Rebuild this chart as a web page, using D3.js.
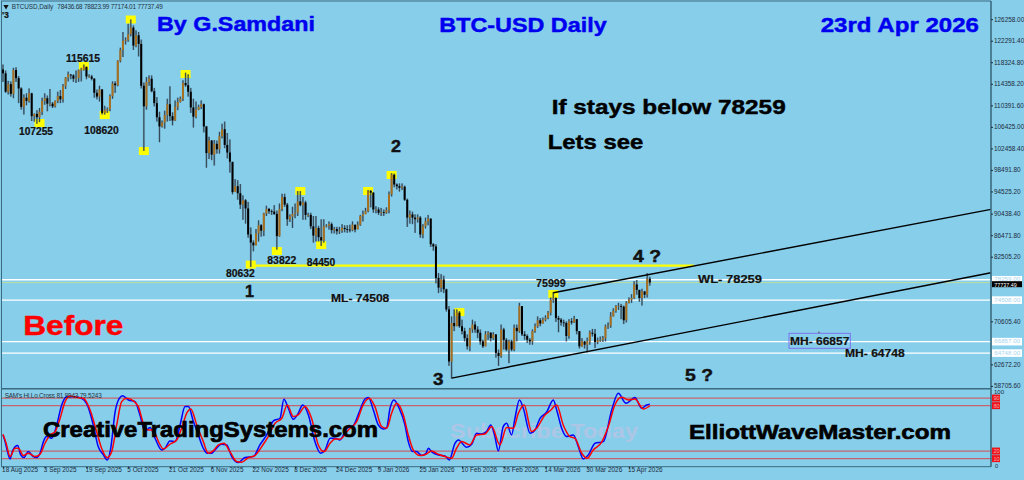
<!DOCTYPE html>
<html>
<head>
<meta charset="utf-8">
<title>BTC-USD Daily</title>
<script src="https://cdn.jsdelivr.net/npm/d3@7"></script>
<style>
html,body{margin:0;padding:0;background:#87ceeb;overflow:hidden}
svg{display:block}
text{font-family:"Liberation Sans",Arial,sans-serif}
.axis text{font-size:6.4px;fill:#1c2b3a}
.axis line{stroke:#1c2b3a}
.axis path{display:none}
</style>
</head>
<body>
<svg id="chart" width="1024" height="480"></svg>
<script>
'use strict';

// daily closes, highs, lows in thousands of USD
var closes = [
116.3,112.9,114.3,112.5,116.9,115.4,113.5,110.1,111.8,111.2,
112.6,108.4,108.8,108.2,109.2,111.2,111.7,110.7,110.7,110.2,
111.2,112.1,111.5,113.9,115.5,116.1,115.9,115.3,115.4,116.8,
117.0,117.5,115.7,115.7,115.3,112.7,112.0,113.3,109.0,109.6,
109.7,112.1,114.4,114.1,118.6,120.6,122.3,122.4,123.5,124.7,
121.4,123.3,121.7,114.0,110.2,114.7,115.3,113.0,110.8,108.2,
106.5,107.2,108.6,110.6,108.4,107.6,110.1,111.0,111.6,114.5,
114.1,112.9,110.0,108.3,109.6,110.1,110.6,106.5,101.6,103.9,
101.3,103.3,102.3,104.7,106.0,103.1,101.7,100.0,94.4,95.5,
94.2,92.1,92.9,91.4,86.6,85.1,84.6,86.8,88.3,87.3,
90.5,91.3,90.9,90.8,90.4,86.3,91.3,93.5,92.1,89.4,
89.9,90.4,90.6,92.7,92.0,92.5,90.2,90.2,88.1,86.4,
87.8,86.1,85.5,88.1,88.2,88.5,87.4,87.6,87.2,87.3,
87.8,87.6,87.5,87.4,88.4,87.5,88.4,90.0,90.3,90.9,
94.6,94.3,91.2,91.2,90.6,90.7,90.6,91.1,94.0,97.6,
95.8,95.5,95.2,95.4,93.0,89.7,90.3,89.7,89.4,89.7,
86.6,88.1,89.0,89.5,84.8,84.4,78.6,76.8,78.3,76.5,
72.8,63.2,70.3,69.7,72.2,69.7,68.8,67.5,66.0,69.1,
70.0,69.1,68.5,66.9,66.0,68.2,68.5,67.5,68.2,64.8,
64.2,69.1,67.2,65.4,66.9,65.4,69.4,68.8,73.4,68.2,
67.9,67.2,66.9,68.8,69.7,70.8,70.2,70.9,71.2,72.2,
74.6,74.9,71.2,70.9,70.4,70.3,67.9,70.6,70.4,71.0,
68.8,66.0,66.9,66.3,66.9,68.5,68.3,66.8,67.1,67.2,
67.5,69.7,69.8,71.5,72.5,73.4,73.4,73.3,70.8,74.0,
74.6,74.9,77.4,76.4,74.9,76.1,75.5,78.44,77.74
];
var highs = [
117.9,116.8,114.9,114.8,117.3,117.4,115.8,113.7,112.4,112.6,
113.5,112.7,108.9,109.5,109.9,111.8,112.6,112.2,113.4,111.0,
111.3,112.9,113.2,114.3,115.6,116.6,116.0,116.1,116.8,117.0,
117.3,117.9,117.5,116.1,116.0,115.4,113.3,114.0,113.4,110.3,
110.0,112.4,114.8,114.8,118.7,121.0,123.9,122.9,125.4,126.2,
125.1,124.2,123.9,122.5,114.6,115.6,115.9,115.9,113.6,111.9,
109.2,107.6,109.4,111.6,113.9,109.1,111.3,111.8,112.0,115.0,
116.4,116.1,113.6,111.6,111.1,110.5,111.3,110.7,106.6,104.6,
104.0,104.0,103.9,105.5,107.0,107.4,105.3,104.1,99.8,96.8,
96.6,95.9,93.8,93.1,92.6,87.9,85.5,87.6,89.2,88.5,
90.6,91.9,91.5,91.2,92.0,91.0,92.3,94.1,94.1,92.4,
90.3,91.7,92.3,94.6,94.6,93.5,92.8,90.6,90.6,90.0,
90.0,88.2,89.4,89.4,88.5,89.0,88.8,88.0,88.0,88.0,
88.5,88.3,88.3,88.4,89.0,88.4,89.0,90.2,91.0,91.5,
94.8,94.8,94.4,91.8,91.6,91.5,91.2,91.6,94.5,97.9,
97.8,96.0,96.0,96.0,95.6,93.2,91.0,90.8,90.3,90.3,
90.0,88.5,89.7,90.2,89.6,85.0,84.8,79.5,79.3,79.0,
76.6,73.4,71.5,72.8,72.8,72.5,70.9,69.4,68.2,69.4,
70.9,70.6,69.7,69.1,67.2,68.8,68.8,68.6,68.6,68.2,
65.4,70.0,69.4,67.5,67.2,67.2,70.0,70.0,74.0,73.4,
68.8,68.2,67.5,69.1,70.2,71.5,71.2,71.3,71.7,72.5,
75.0,76.0,75.0,71.6,71.2,70.9,70.6,71.0,71.2,71.6,
71.0,68.8,67.5,67.0,67.6,68.9,69.2,69.2,67.6,67.8,
67.9,70.0,70.4,72.3,73.0,73.6,74.0,73.8,73.5,74.3,
75.0,75.6,78.0,78.2,76.4,76.6,76.2,79.5,78.82
];
var lows = [
114.7,112.7,112.4,112.0,111.7,114.7,110.8,109.6,108.7,110.4,
110.9,107.5,107.4,107.0,107.3,108.6,110.5,109.3,110.2,109.9,
110.0,110.8,110.8,110.9,113.4,114.8,115.2,114.7,114.5,114.7,
114.8,116.8,115.2,115.5,115.0,111.8,111.5,111.1,108.7,108.7,
109.0,109.3,111.6,112.7,113.9,118.3,119.3,121.6,122.1,123.1,
120.6,121.1,119.4,113.5,102.0,109.6,114.0,112.8,110.2,107.4,
103.6,106.3,106.1,107.4,107.5,106.7,107.5,109.5,110.9,111.2,
113.8,112.0,109.0,106.3,108.0,109.5,109.7,105.4,98.9,100.5,
100.3,99.3,101.5,101.5,104.3,102.5,100.6,98.0,94.0,94.8,
93.0,91.3,89.3,88.6,86.0,80.6,83.5,84.6,85.3,86.2,
86.3,90.0,90.4,90.2,90.2,83.8,86.2,90.9,91.7,88.2,
88.9,87.8,89.6,90.0,91.8,89.3,89.3,89.8,87.6,85.1,
85.3,85.3,84.5,85.1,87.9,87.5,86.8,86.8,86.6,86.7,
86.9,87.0,86.9,87.0,87.2,87.0,87.6,88.2,89.0,90.5,
90.7,91.6,90.6,90.5,90.2,90.0,90.0,90.4,90.5,93.6,
95.3,94.9,94.5,94.8,92.8,88.0,88.6,88.5,86.9,88.8,
86.0,85.9,87.7,88.3,84.3,83.6,77.6,75.8,76.0,75.8,
72.4,62.4,60.1,68.8,69.7,69.4,68.2,66.9,65.4,65.1,
68.5,68.5,67.5,66.3,65.7,66.0,67.2,66.9,67.2,63.9,
62.4,63.9,65.4,65.1,62.9,65.1,65.1,66.9,68.5,67.9,
67.2,66.6,66.3,66.3,68.5,69.4,69.7,70.2,70.6,71.0,
71.7,74.0,70.5,68.6,69.8,69.6,66.9,67.4,70.0,70.3,
68.2,65.6,65.9,65.6,64.9,66.3,67.8,65.7,66.4,66.8,
66.8,66.9,69.2,69.4,71.5,72.2,72.7,71.0,70.1,70.4,
73.9,74.0,74.7,75.5,74.2,73.5,74.9,75.0,77.17
];
var firstOpen = 117.0;

var priceTicks = [126258,122291.4,118324.8,114358.2,110391.6,106425,102458.4,98491.8,94525.2,90438.4,86471.8,82505.2,70605.4,62672.2,58705.6];
var levels = [78259,74508,66857,64748];
var bidPrice = 77737.49;
var supportPrice = 80850;

var dateTickBars = [0,16,32,48,64,80,96,112,128,144,160,176,192,208,224,240];
var dateTickLabels = ['18 Aug 2025','3 Sep 2025','19 Sep 2025','5 Oct 2025','21 Oct 2025','6 Nov 2025','22 Nov 2025','8 Dec 2025','24 Dec 2025','9 Jan 2026','25 Jan 2026','10 Feb 2026','26 Feb 2026','14 Mar 2026','30 Mar 2026','15 Apr 2026'];

// yellow swing markers: bar, price
var swingBars = [49,31,14,39,54,70,95,105,114,122,140,149,175,211];
var swingPrices = [126200,117630,107130,108600,101970,116160,81050,83550,94600,84650,94600,97550,72300,75620];

// trend lines: bar, price at both ends
var lowerTrendBars = [172,378.8];
var lowerTrendPrices = [60142,79546];
var upperTrendBars = [211,378.8];
var upperTrendPrices = [75860,91228];
var supportBars = [96,265];

// indicator sample points: bar and value
var blueBars = [0,0.8,1.7,2.7,3.7,5.6,6.8,8,9.7,11.6,12.9,14.2,15.5,16.7,18.7,20.6,22.5,24.4,27,29.5,32.3,34.6,36.5,38.5,40,41.3,43,44.6,45.9,48.1,50.6,52.5,54.4,56.4,58.3,60.8,62.1,64,66,67.9,69.8,71.1,73,74.9,76.8,78.3,80,81.3,83.8,85.8,87.7,90.2,92.8,96,98.5,101.1,103.7,106.2,107.7,109.4,111.3,113.2,114.9,117.1,119.6,121.8,123.5,125.4,127.3,129.2,131.8,134.3,136.9,138.8,140.1,142,143.9,145.8,147.1,148.4,149.9,151.9,154.1,155.4,157.1,158.6,160.5,162.2,163.1,164.3,166.9,169.5,171.1,173.3,174.6,177.8,179.7,181.6,183.5,185.4,187,188.6,189.9,191.8,193.1,195,196.3,198,199.5,202.1,204,205.9,208.4,211,212.3,214.2,216.1,218.7,220.6,222.5,224.4,227,230.2,233.4,235.9,238.9,242.3,244.9,246.8,248];
var blueValues = [41.3,32.5,19.3,9.6,20.6,27.2,14.9,11.4,19.3,12.7,11.4,17.1,32.5,39.1,36.9,54.5,80.9,91.9,91.9,90.6,80.9,54.5,25.9,14.9,8.3,23.7,72.1,89.7,93.2,87.5,85.3,67.7,45.7,51,36.9,21.5,23.7,33.4,32.5,54.5,78.7,78.7,58.9,41.3,23.7,17.1,17.1,21.5,29,28.1,12.7,4.8,11.4,12.7,28.1,41.3,59.8,63.3,88.4,76.5,62,69.9,80.9,67.7,32.5,17.1,21.5,36.9,36.9,34.7,50.1,53.6,74.3,88.8,90.6,74.3,54.5,49.2,51,76.5,87.5,76.5,54.5,32.5,19.3,19.3,14,17.1,23.7,19.3,14.9,13.6,8.3,30.3,34.7,25,29,43.5,42.6,45.7,54.5,39.1,20.2,52.3,56.7,41.3,63.3,87.5,76.5,43.5,47.9,63.3,71.2,87.5,74.3,50.1,39.1,41.3,25.9,9.6,14.9,30.3,32.5,74.3,96.3,83.1,90.6,76.5,80.9,81.99];
var redBars = [0,1.2,2.7,4.6,5.9,7.8,9.7,12.3,14.2,16.1,18,20,21.9,23.8,25.7,28.2,30.8,33.4,35.9,37.8,40,41.7,43.6,45.5,47.4,50,51.9,53.8,55.7,57.6,59.6,61.5,64,66.6,68.5,70.4,72,74.3,76.8,78.7,80.6,82.6,84.7,87,89.6,91.5,94.1,96.6,99.2,101.7,104.3,106.9,109,111.3,113.2,115.8,118.3,120.9,123.1,125.4,127.3,129.2,132.4,135.6,138.1,140.4,142.6,145.2,147.1,149,150.9,153.5,155.4,157.3,159.9,162.2,164.3,166.9,169.5,172,173.9,175.9,179,181.6,184.8,187.4,190.5,193.1,195.7,197.6,199.8,202.7,204.6,207.8,209.7,212.3,214.8,217.4,219.3,221.9,224,226.3,229.5,232.1,234.6,237.2,239.8,242.3,245.5,248];
var redValues = [42.2,30.3,12.7,23.7,23.7,14,17.1,12.7,15.8,30.3,41.3,45.7,63.3,85.3,92.8,91,89.7,74.3,45.7,23.7,11.4,19.3,54.5,85.3,89.7,86.2,78.7,56.7,47.9,47.9,32.5,22.8,29,34.7,50.1,69.9,75.6,54.5,32.5,17.1,20.2,28.1,30.3,19.3,6.1,5.2,11.4,14,25.9,39.1,56.7,63.3,80.9,65.5,67.7,78.7,63.3,28.1,19.3,30.3,36,35.6,47.9,58.9,80.9,89.7,78.7,52.3,50.1,69.9,83.1,67.7,41.3,21.5,14,15.8,20.2,15.8,12.7,10.5,23.7,32.5,28.1,41.3,42.6,52.3,28.1,51,50.1,69.9,80.9,45.7,50.1,67.7,73,80.9,54.5,39.1,36.9,17.1,10.5,21.5,31.6,52.3,80.9,91,87.5,88.8,75.6,79.52];
var indicatorLevels = [90,80,20,10];

var width = 1024, height = 480;
var frameRight = 991, paneBottom = 388.8, indBottom = 466.7;
var frameColor = '#3b6b80';

var svg = d3.select('#chart');
var x = d3.scaleLinear().domain([0,248]).range([3,649.8]);
var y = d3.scaleLinear().domain([126258,58705.6]).range([19.2,385.9]);
var yInd = d3.scaleLinear().domain([0,100]).range([466.2,390.5]);

svg.append('rect').attr('width',width).attr('height',height).attr('fill','#87ceeb');

function label(t, xStart, base, len, size, color, stroke){
	return svg.append('text')
		.attr('x',xStart).attr('y',base)
		.attr('textLength',len).attr('lengthAdjust','spacingAndGlyphs')
		.attr('font-size',size).attr('font-weight','bold')
		.attr('fill',color)
		.attr('stroke',color).attr('stroke-width',stroke===undefined?0.45:stroke)
		.text(t);
}

//faint watermark sits under the indicator lines
label('Subscribe Today',450,437.5,188,21,'#adc6e6',0);

//horizontal levels
svg.selectAll('.level').data(levels).enter().append('line')
	.attr('class','level')
	.attr('x1',2).attr('x2',frameRight)
	.attr('y1',function(d){return y(d);}).attr('y2',function(d){return y(d);})
	.attr('stroke','#fff').attr('stroke-width',1.3);
svg.append('line')
	.attr('x1',2).attr('x2',frameRight)
	.attr('y1',y(bidPrice)).attr('y2',y(bidPrice))
	.attr('stroke','#c3dc96').attr('stroke-width',0.9);
svg.append('line')
	.attr('x1',x(supportBars[0])).attr('x2',x(supportBars[1]))
	.attr('y1',y(supportPrice)).attr('y2',y(supportPrice))
	.attr('stroke','#ffff00').attr('stroke-width',2.2);

//swing markers
svg.selectAll('.swing').data(swingBars).enter().append('rect')
	.attr('class','swing')
	.attr('x',function(d){return x(d)-5;})
	.attr('y',function(d,i){return y(swingPrices[i])-4;})
	.attr('width',10).attr('height',8)
	.attr('fill','#ffff00');

//candles: soft halo, wick, body
var bars = d3.range(closes.length);
function openOf(i){ return i==0 ? firstOpen : closes[i-1]; }
var candle = svg.append('g').selectAll('g').data(bars).enter().append('g');
candle.append('line')
	.attr('x1',function(i){return x(i);}).attr('x2',function(i){return x(i);})
	.attr('y1',function(i){return y(highs[i]*1000);})
	.attr('y2',function(i){return y(lows[i]*1000);})
	.attr('stroke','#50687c').attr('stroke-width',1.9).attr('stroke-opacity',0.55);
candle.append('line')
	.attr('x1',function(i){return x(i);}).attr('x2',function(i){return x(i);})
	.attr('y1',function(i){return y(highs[i]*1000);})
	.attr('y2',function(i){return y(lows[i]*1000);})
	.attr('stroke','#26333f').attr('stroke-width',0.8);
candle.append('rect')
	.attr('x',function(i){return x(i)-1;})
	.attr('width',2)
	.attr('y',function(i){return y(Math.max(openOf(i),closes[i])*1000);})
	.attr('height',function(i){return Math.max(0.8,Math.abs(y(openOf(i)*1000)-y(closes[i]*1000)));})
	.attr('fill',function(i){return closes[i]>=openOf(i) ? '#a8701e' : '#000';});

//trend lines
[[lowerTrendBars,lowerTrendPrices],[upperTrendBars,upperTrendPrices]].forEach(function(t){
	svg.append('line')
		.attr('x1',x(t[0][0])).attr('x2',x(t[0][1]))
		.attr('y1',y(t[1][0])).attr('y2',y(t[1][1]))
		.attr('stroke','#000').attr('stroke-width',1.4);
});

//indicator pane
svg.selectAll('.indLevel').data(indicatorLevels).enter().append('line')
	.attr('class','indLevel')
	.attr('x1',2).attr('x2',frameRight)
	.attr('y1',function(d){return yInd(d);}).attr('y2',function(d){return yInd(d);})
	.attr('stroke','#c4646e').attr('stroke-width',1.2);

function indPath(xs, vs, color){
	var line = d3.line()
		.x(function(d){return x(d);})
		.y(function(d,i){return yInd(vs[i]);})
		.curve(d3.curveMonotoneX);
	svg.append('path').attr('d',line(xs))
		.attr('fill','none').attr('stroke',color).attr('stroke-width',1.5);
}
indPath(blueBars,blueValues,'#0000ff');
indPath(redBars,redValues,'#ff0000');

//frames
function frameLine(x1,y1,x2,y2,w){
	svg.append('line').attr('x1',x1).attr('y1',y1).attr('x2',x2).attr('y2',y2)
		.attr('stroke',frameColor).attr('stroke-width',w);
}
frameLine(1.5,1,1.5,indBottom,1);
frameLine(1,1,frameRight,1,1);
frameLine(1,paneBottom,frameRight,paneBottom,1.6);
frameLine(1,indBottom,frameRight,indBottom,1);
frameLine(frameRight,1,frameRight,indBottom,1.6);

//price axis
svg.append('g').attr('class','axis')
	.attr('transform','translate('+frameRight+',0)')
	.call(d3.axisRight(y).tickValues(priceTicks).tickSize(2).tickPadding(1).tickFormat(d3.format('.2f')));

//price labels of the levels
var lvl = svg.selectAll('.lvlLabel').data(levels).enter().append('g').attr('class','lvlLabel');
lvl.append('rect')
	.attr('x',992).attr('width',30)
	.attr('y',function(d){return y(d)-3.8;}).attr('height',7.6)
	.attr('fill','#fff');
lvl.append('text')
	.attr('x',994.3).attr('y',function(d){return y(d)+1.5;})
	.attr('font-size',6.2).attr('fill','#a5d4ee')
	.text(function(d){return d.toFixed(2);});
svg.append('rect').attr('x',992).attr('width',30).attr('y',y(bidPrice)-1.4).attr('height',6).attr('fill','#000');
svg.append('text').attr('x',994.3).attr('y',y(bidPrice)+4.4)
	.attr('font-size',5.4).attr('fill','#fff')
	.text(bidPrice.toFixed(2));

//indicator scale
svg.selectAll('.indBox').data(indicatorLevels).enter().append('rect')
	.attr('class','indBox')
	.attr('x',992).attr('width',8)
	.attr('y',function(d){return yInd(d)-3.5;}).attr('height',7)
	.attr('fill','#f01218');
svg.selectAll('.indTxt').data(indicatorLevels).enter().append('text')
	.attr('class','indTxt')
	.attr('x',993.4).attr('y',function(d){return yInd(d)+2.2;})
	.attr('font-size',5.6).attr('fill','#f6a8a8')
	.text(function(d){return d;});
svg.append('text').attr('x',994).attr('y',394).attr('font-size',6).attr('fill','#1c2b3a').text('100');
svg.append('text').attr('x',995).attr('y',467.5).attr('font-size',5.6).attr('fill','#1c2b3a').text('0');

//date axis
var dateAxis = svg.append('g').attr('class','axis')
	.attr('transform','translate(0,'+indBottom+')')
	.call(d3.axisBottom(x).tickValues(dateTickBars).tickSize(2).tickPadding(2)
		.tickFormat(function(d,i){return dateTickLabels[i];}));
dateAxis.selectAll('text').attr('text-anchor','start').attr('dx',-1.4).attr('dy',1.2);

//header texts
svg.append('path').attr('d',d3.symbol().type(d3.symbolTriangle).size(12)()).attr('fill','#111')
	.attr('transform','translate(6,6.5) rotate(180)');
svg.append('text').attr('x',11.7).attr('y',9).attr('font-size',6.4).attr('fill','#26333d')
	.attr('textLength',41.5).text('BTCUSD,Daily');
svg.append('text').attr('x',57.3).attr('y',9).attr('font-size',6.4).attr('fill','#26333d')
	.attr('textLength',105.4).text('78436.68 78823.99 77174.01 77737.49');
svg.append('text').attr('x',4.7).attr('y',397.7).attr('font-size',6.4).attr('fill','#26333d')
	.attr('textLength',97).text("SAM's Hi.Lo.Cross 81.9943 79.5243");
label("'3",2,18,7,9,'#111',0.2);

//annotations
label('By G.Samdani',157,30.7,158,20,'#0000f0');
label('BTC-USD Daily',439.3,32.3,167.4,21,'#0000f0');
label('23rd Apr 2026',820.7,31.7,158.3,21,'#0000f0');
label('If stays below 78259',551.7,113.7,234,21,'#000');
label('Lets see',547.7,149,95.6,20.5,'#000');
label('2',391,152,10,17,'#111');
label('1',245,297,9,17,'#111');
label('3',433,385,10.5,17,'#111');
label('4 ?',633,262,28,17,'#111');
label('5 ?',685,381,28,17,'#111');
label('Before',23.3,335,100,28,'#ff0000');
label('CreativeTradingSystems.com',43,437,335,22,'#000',0.7);
label('ElliottWaveMaster.com',689,439,262,20,'#000',0.6);

label('115615',66,62,34,10,'#111',0.2);
label('107255',19,135,34,10,'#111',0.2);
label('108620',84.3,134,34.4,10,'#111',0.2);
label('80632',226,276.7,28.7,10,'#111',0.2);
label('83822',267.3,264,29,10,'#111',0.2);
label('84450',306.7,266,28.6,10,'#111',0.2);
label('75999',536,286.7,29.7,10,'#111',0.2);
label('ML- 74508',331,302.3,58.3,10,'#111',0.2);
label('WL- 78259',698,283,64,10,'#111',0.2);
svg.append('rect').attr('x',789).attr('y',333.3).attr('width',61.3).attr('height',15)
	.attr('fill','none').attr('stroke','#7b68ee').attr('stroke-width',0.9);
svg.append('circle').attr('cx',819).attr('cy',332.3).attr('r',0.8).attr('fill','#555');
label('MH- 66857',790,345,59.3,10,'#111',0.2);
label('MH- 64748',845,357,59.7,10,'#111',0.2);
</script>
</body>
</html>
